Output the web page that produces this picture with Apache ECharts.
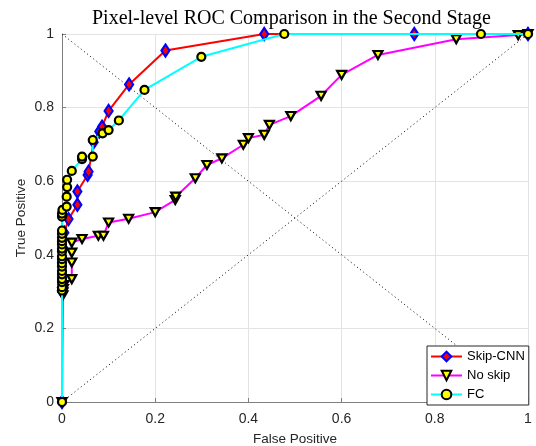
<!DOCTYPE html>
<html>
<head>
<meta charset="utf-8">
<script src="https://cdn.jsdelivr.net/npm/echarts@6/dist/echarts.min.js"></script>
<style>html,body{margin:0;padding:0;background:#fff;}#c{width:536px;height:446px;}</style>
</head>
<body>
<div id="c"></div>
<script>
var titleText = 'Pixel-level ROC Comparison in the Second Stage';
var xName = 'False Positive';
var yName = 'True Positive';
var seriesNames = ['Skip-CNN', 'No skip', 'FC'];
var xTicks = [0, 0.2, 0.4, 0.6, 0.8, 1];
var yTicks = [0, 0.2, 0.4, 0.6, 0.8, 1];

var skipX = [0, 0, 0, 0, 0.002, 0.005, 0.014, 0.033, 0.033, 0.055, 0.057, 0.068, 0.080, 0.086, 0.100, 0.144, 0.222, 0.434, 0.756, 1];
var skipY = [0, 0.30, 0.34, 0.38, 0.42, 0.46, 0.497, 0.536, 0.572, 0.617, 0.626, 0.706, 0.735, 0.748, 0.791, 0.863, 0.955, 1.0, 1.0, 1];

var noSkipX = [0, 0.002, 0.002, 0.003, 0.004, 0.021, 0.021, 0.021, 0.021, 0.043, 0.078, 0.089, 0.100, 0.143, 0.200, 0.243, 0.244, 0.286, 0.311, 0.343, 0.389, 0.400, 0.434, 0.445, 0.491, 0.556, 0.600, 0.678, 0.846, 0.979, 1];
var noSkipY = [0, 0.290, 0.298, 0.307, 0.318, 0.334, 0.379, 0.406, 0.433, 0.443, 0.452, 0.452, 0.488, 0.498, 0.516, 0.549, 0.558, 0.608, 0.644, 0.662, 0.699, 0.717, 0.726, 0.753, 0.777, 0.832, 0.889, 0.943, 0.986, 0.997, 1];

var fcX = [0, 0, 0, 0, 0, 0, 0, 0, 0, 0, 0, 0, 0, 0, 0, 0, 0, 0, 0, 0, 0.001, 0.010, 0.010, 0.011, 0.011, 0.021, 0.043, 0.043, 0.066, 0.066, 0.087, 0.100, 0.122, 0.177, 0.299, 0.477, 0.899, 1];
var fcY = [0, 0.303, 0.312, 0.326, 0.334, 0.347, 0.356, 0.368, 0.377, 0.388, 0.396, 0.409, 0.417, 0.428, 0.437, 0.446, 0.457, 0.466, 0.504, 0.512, 0.522, 0.531, 0.558, 0.584, 0.604, 0.628, 0.660, 0.667, 0.667, 0.712, 0.730, 0.739, 0.765, 0.848, 0.938, 1.0, 1.0, 1];

var diagX = [0, 1];
var diagY = [0, 1];
var antiX = [0, 1];
var antiY = [1, 0];

function pairs(xs, ys) { return xs.map(function (x, i) { return [x, ys[i]]; }); }

var chart = echarts.init(document.getElementById('c'), null, { renderer: 'canvas' });
var axisColor = '#7f7f7f';
var gridColor = '#e3e3e3';
var labelColor = '#262626';
var triPath = 'path://M0,0L10,0L5,9Z';

chart.setOption({
  animation: false,
  backgroundColor: '#fff',
  title: {
    text: titleText,
    left: 92,
    top: 9,
    padding: 0,
    textStyle: { fontFamily: 'Liberation Serif', fontSize: 20, fontWeight: 'normal', color: '#000' }
  },
  legend: {
    data: seriesNames,
    orient: 'vertical',
    left: 427,
    top: 346,
    padding: [4, 4, 4, 3],
    itemWidth: 31,
    itemHeight: 12,
    itemGap: 6,
    borderColor: '#262626',
    borderWidth: 1,
    backgroundColor: '#fff',
    textStyle: { fontFamily: 'Liberation Sans', fontSize: 13, color: '#000' },
    z: 10
  },
  grid: { left: 62, right: 8, top: 34, bottom: 44, outerBoundsMode: 'none' },
  xAxis: {
    type: 'value', min: xTicks[0], max: xTicks[xTicks.length - 1], interval: 0.2,
    name: xName, nameLocation: 'middle', nameGap: 30, nameMoveOverlap: false,
    nameTextStyle: { fontFamily: 'Liberation Sans', fontSize: 13.5, color: labelColor },
    axisLine: { show: true, lineStyle: { color: axisColor, width: 1 } },
    axisTick: { show: true, inside: true, length: 4, lineStyle: { color: axisColor } },
    axisLabel: { margin: 10, fontFamily: 'Liberation Sans', fontSize: 14, color: labelColor,
      formatter: function (v) { return String(+v.toFixed(1)); } },
    splitLine: { show: true, lineStyle: { color: gridColor, width: 1 } }
  },
  yAxis: {
    type: 'value', min: yTicks[0], max: yTicks[yTicks.length - 1], interval: 0.2,
    name: yName, nameLocation: 'middle', nameGap: 34, nameRotate: 90, nameMoveOverlap: false,
    nameTextStyle: { fontFamily: 'Liberation Sans', fontSize: 13.5, color: labelColor },
    axisLine: { show: true, lineStyle: { color: axisColor, width: 1 } },
    axisTick: { show: true, inside: true, length: 4, lineStyle: { color: axisColor } },
    axisLabel: { margin: 8, fontFamily: 'Liberation Sans', fontSize: 14, color: labelColor,
      formatter: function (v) { return String(+v.toFixed(1)); } },
    splitLine: { show: true, lineStyle: { color: gridColor, width: 1 } }
  },
  series: [
    {
      name: 'diag', type: 'line', data: pairs(diagX, diagY), showSymbol: false, silent: true, z: 1,
      lineStyle: { color: '#000', width: 1, type: [1, 3] }
    },
    {
      name: 'anti', type: 'line', data: pairs(antiX, antiY), showSymbol: false, silent: true, z: 1,
      lineStyle: { color: '#000', width: 1, type: [1, 3] }
    },
    {
      name: seriesNames[0], type: 'line', data: pairs(skipX, skipY), z: 3,
      symbol: 'diamond', symbolSize: [8, 12],
      lineStyle: { color: '#ff0000', width: 2 },
      itemStyle: { color: '#ff0000', borderColor: '#0000ff', borderWidth: 2.2 }
    },
    {
      name: seriesNames[1], type: 'line', data: pairs(noSkipX, noSkipY), z: 4,
      symbol: triPath, symbolSize: [9, 8],
      lineStyle: { color: '#ff00ff', width: 2 },
      itemStyle: { color: '#ffff00', borderColor: '#000', borderWidth: 2.2 }
    },
    {
      name: seriesNames[2], type: 'line', data: pairs(fcX, fcY), z: 5,
      symbol: 'circle', symbolSize: 8,
      lineStyle: { color: '#00ffff', width: 2 },
      itemStyle: { color: '#ffff00', borderColor: '#000', borderWidth: 2.2 }
    }
  ]
});
</script>
</body>
</html>
